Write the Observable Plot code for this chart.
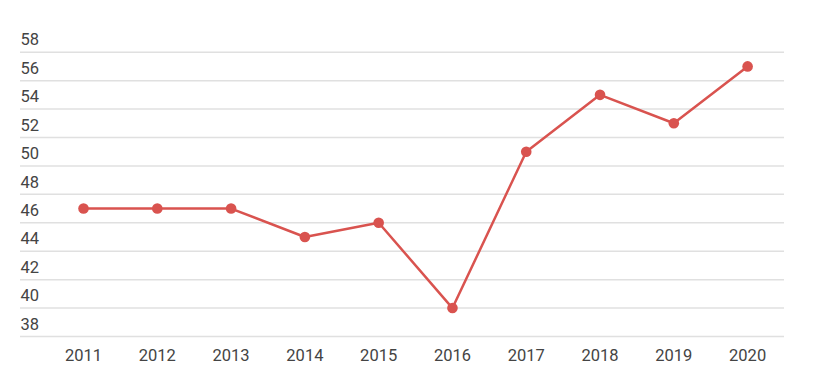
<!DOCTYPE html>
<html><head><meta charset="utf-8">
<script src="https://cdn.jsdelivr.net/npm/d3@7"></script>
<script src="https://cdn.jsdelivr.net/npm/@observablehq/plot@0.6"></script>
<style>body{margin:0;background:#fff;}</style>
</head><body><div id="chart"></div>
<script>
const years = [2011, 2012, 2013, 2014, 2015, 2016, 2017, 2018, 2019, 2020];
const values = [47, 47, 47, 45, 46, 40, 51, 55, 53, 57];
const yTicks = [38, 40, 42, 44, 46, 48, 50, 52, 54, 56, 58];
const data = years.map((y, i) => ({year: y, value: values[i]}));
const color = "#d9534f";
const xDomain = [2010.146, 2020.5];

const chart = Plot.plot({
  width: 819, height: 382,
  marginLeft: 20, marginRight: 35, marginTop: 51.7, marginBottom: 46,
  style: {fontFamily: "Roboto", fontSize: "16.5px", color: "#444", background: "#fff"},
  x: {type: "linear", domain: xDomain},
  y: {domain: [38, 58]},
  marks: [
    Plot.ruleY(yTicks, {stroke: "#e0e0e0", strokeWidth: 1.5}),
    Plot.text(yTicks, {x: xDomain[0], y: d => d, text: d => String(d), textAnchor: "start", dy: -12, fill: "#444", fontSize: 16.5}),
    Plot.axisX({ticks: years, tickFormat: d => String(d), tickSize: 0, tickPadding: 13, label: null, fontSize: 16.5}),
    Plot.axisY({ticks: [], label: null}),
    Plot.line(data, {x: "year", y: "value", stroke: color, strokeWidth: 2.5}),
    Plot.dot(data, {x: "year", y: "value", r: 5.3, fill: color})
  ]
});
document.getElementById("chart").appendChild(chart);
</script></body></html>
